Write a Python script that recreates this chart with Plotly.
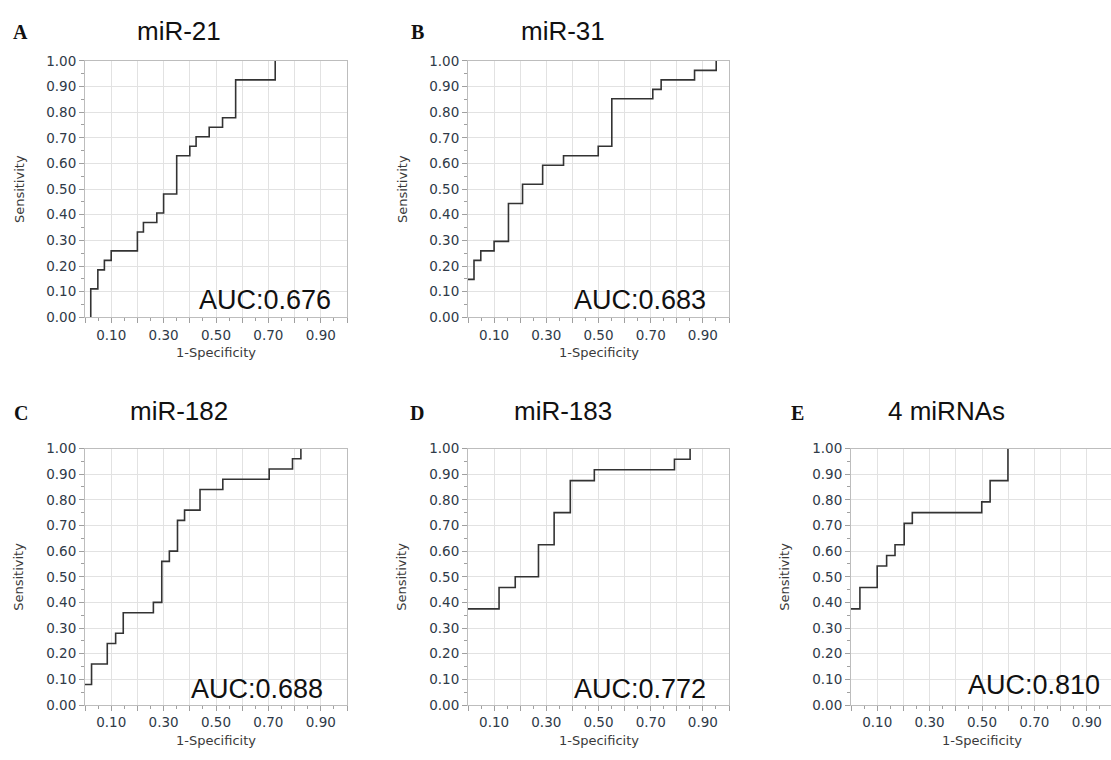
import plotly.graph_objects as go

W, H = 1111, 760

letters = ["A", "B", "C", "D", "E"]
titles = ["miR-21", "miR-31", "miR-182", "miR-183", "4 miRNAs"]
auc_labels = ["AUC:0.676", "AUC:0.683", "AUC:0.688", "AUC:0.772", "AUC:0.810"]

# ROC step points (1-Specificity, Sensitivity)
a_fpr = [0.022, 0.022, 0.049, 0.074, 0.100, 0.200, 0.223, 0.274, 0.300, 0.350, 0.400, 0.424, 0.474, 0.525, 0.575, 0.726]
a_tpr = [0.000, 0.111, 0.185, 0.222, 0.259, 0.333, 0.370, 0.407, 0.481, 0.630, 0.667, 0.704, 0.741, 0.778, 0.926, 1.000]

b_fpr = [0.000, 0.023, 0.049, 0.100, 0.155, 0.209, 0.286, 0.366, 0.499, 0.551, 0.708, 0.740, 0.868, 0.951]
b_tpr = [0.148, 0.222, 0.259, 0.296, 0.444, 0.519, 0.593, 0.630, 0.667, 0.852, 0.889, 0.926, 0.963, 1.000]

c_fpr = [0.000, 0.025, 0.085, 0.117, 0.146, 0.261, 0.293, 0.322, 0.353, 0.380, 0.439, 0.526, 0.703, 0.792, 0.824]
c_tpr = [0.080, 0.160, 0.240, 0.280, 0.360, 0.400, 0.560, 0.600, 0.720, 0.760, 0.840, 0.880, 0.920, 0.960, 1.000]

d_fpr = [0.000, 0.119, 0.181, 0.270, 0.330, 0.392, 0.484, 0.791, 0.851]
d_tpr = [0.375, 0.458, 0.500, 0.625, 0.750, 0.875, 0.917, 0.958, 1.000]

e_fpr = [0.000, 0.034, 0.100, 0.136, 0.168, 0.203, 0.234, 0.499, 0.531, 0.599]
e_tpr = [0.375, 0.458, 0.542, 0.583, 0.625, 0.708, 0.750, 0.792, 0.875, 1.000]

series = [(a_fpr, a_tpr), (b_fpr, b_tpr), (c_fpr, c_tpr), (d_fpr, d_tpr), (e_fpr, e_tpr)]

auc_pos = [(0.947, 0.068), (0.918, 0.069), (0.916, 0.064), (0.918, 0.064), (0.958, 0.079)]

tick_vals = [i / 10 for i in range(11)]
x_text = ["0.%d0" % i if i % 2 == 1 else "" for i in range(10)] + [""]
y_text = ["%.2f" % v for v in tick_vals]

# plot boxes in pixels: left, right, top, bottom
boxes = [(85, 347, 54, 316), (468, 729, 54, 316),
         (85, 347, 450, 712), (468, 729, 450, 712), (851, 1113, 450, 712)]
letter_pos = [(20, 25), (417, 25), (21, 414), (417, 414), (797, 414)]
title_pos = [(179, 23), (563, 23), (179, 412), (563, 412), (946, 412)]

fig = go.Figure()
layout = dict(width=W, height=H, margin=dict(l=0, r=0, t=0, b=0),
              paper_bgcolor="white", plot_bgcolor="white", showlegend=False)
annotations = []

tickfont = dict(family="DejaVu Sans", size=13.5, color="#2f3a48")
grid_c = "#e2e2e2"
line_c = "#bdbdbd"

for i, ((fx, ty), (l, r, t, b)) in enumerate(zip(series, boxes)):
    n = "" if i == 0 else str(i + 1)
    xa, ya = "x" + n, "y" + n
    fig.add_trace(go.Scatter(x=fx, y=ty, mode="lines", line=dict(color="#333333", width=1.6, shape="hv"),
                             xaxis=xa, yaxis=ya, hoverinfo="skip"))
    clipped = r > W
    x_end = min(r, W)
    xr = (x_end - l) / (r - l)
    xdom = [l / W, x_end / W]
    ydom = [1 - b / H, 1 - t / H]
    layout["xaxis" + n] = dict(domain=xdom, range=[0, xr], anchor=ya, tickmode="array",
                               tickvals=tick_vals, ticktext=x_text, ticks="outside", ticklen=5,
                               tickcolor="#a0a0a0", showgrid=True, gridcolor=grid_c, gridwidth=1,
                               showline=True, linecolor=line_c, linewidth=1, mirror=True,
                               zeroline=False, tickfont=tickfont, fixedrange=True,
                               minor=dict(dtick=0.05, tick0=0, ticks="outside", ticklen=3,
                                          tickcolor="#a0a0a0", showgrid=False))
    layout["yaxis" + n] = dict(domain=ydom, range=[0, 1], anchor=xa, tickmode="array",
                               tickvals=tick_vals, ticktext=y_text, ticks="outside", ticklen=5,
                               tickcolor="#a0a0a0", showgrid=True, gridcolor=grid_c, gridwidth=1,
                               showline=True, linecolor=line_c, linewidth=1, mirror=not clipped,
                               zeroline=False, tickfont=tickfont, fixedrange=True,
                               minor=dict(dtick=0.05, tick0=0, ticks="outside", ticklen=3,
                                          tickcolor="#a0a0a0", showgrid=False))
    # panel letter
    lx, ly = letter_pos[i]
    annotations.append(dict(x=lx / W, y=1 - ly / H, xref="paper", yref="paper", text="<b>%s</b>" % letters[i],
                            showarrow=False, xanchor="center", yanchor="middle",
                            font=dict(family="Liberation Serif", size=20, color="#111111")))
    tx, tyy = title_pos[i]
    annotations.append(dict(x=tx / W, y=1 - tyy / H, xref="paper", yref="paper", text=titles[i],
                            showarrow=False, xanchor="center", yanchor="middle",
                            font=dict(family="Liberation Sans", size=26, color="#111111")))
    # AUC
    ax_, ay_ = auc_pos[i]
    annotations.append(dict(x=ax_, y=ay_, xref=xa, yref=ya, text=auc_labels[i], showarrow=False,
                            xanchor="right", yanchor="middle",
                            font=dict(family="Liberation Sans", size=27, color="#111111")))
    # axis titles
    cx = (l + r) / 2
    annotations.append(dict(x=cx / W, y=1 - (b + 36) / H, xref="paper", yref="paper", text="1-Specificity",
                            showarrow=False, xanchor="center", yanchor="middle",
                            font=dict(family="DejaVu Sans", size=13, color="#3a3a3a")))
    annotations.append(dict(x=(l - 66) / W, y=1 - ((t + b) / 2) / H, xref="paper", yref="paper",
                            text="Sensitivity", textangle=-90, showarrow=False,
                            xanchor="center", yanchor="middle",
                            font=dict(family="DejaVu Sans", size=13, color="#3a3a3a")))

layout["annotations"] = annotations
fig.update_layout(**layout)

page_fix = (
    "document.documentElement.style.margin='0';"
    "document.body.style.margin='0';"
    "document.documentElement.style.overflow='hidden';"
    "document.body.style.overflow='hidden';"
    "document.documentElement.style.height='760px';"
    "document.body.style.height='760px';"
    "var gd=document.querySelector('.plotly-graph-div');"
    "if(gd){gd.style.position='fixed';gd.style.left='0px';gd.style.top='0px';}"
)
fig.write_html("out.html", config={"displayModeBar": False}, post_script=page_fix)
